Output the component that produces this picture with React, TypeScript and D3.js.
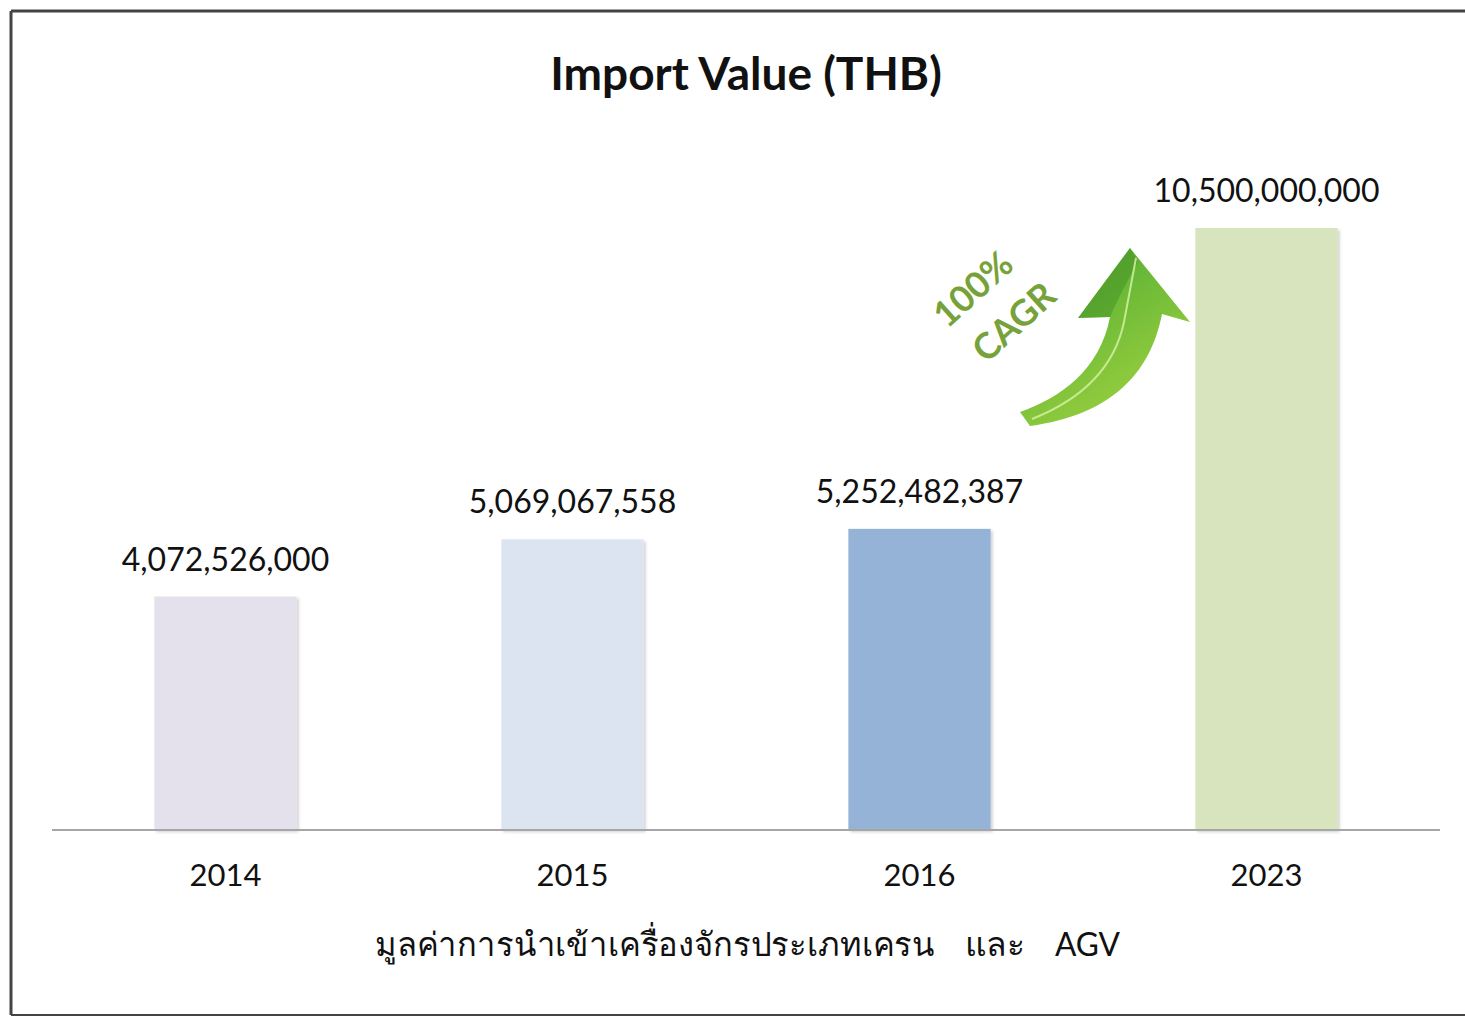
import React from "react";
import * as d3 from "d3";

const years = ["2014", "2015", "2016", "2023"];
const values = [4072526000, 5069067558, 5252482387, 10500000000];
const barColors = ["#e4e0ec", "#dce4f2", "#95b3d7", "#d7e4bd"];
const title = "Import Value (THB)";
const xTitleParts = ["มูลค่าการนำเข้าเครื่องจักรประเภทเครน", "และ", "AGV"];
const cagrLines = ["100%", "CAGR"];

const W = 1465;
const H = 1017;
const FONT = "Lato, 'Open Sans', 'Noto Sans', sans-serif";

export default function App() {
  const x = d3.scaleBand<string>().domain(years).range([52, 1440]).paddingInner(0.59).paddingOuter(0.295);
  const y = d3.scaleLinear().domain([0, 10500000000]).range([830, 228]);
  const fmt = d3.format(",");

  // arrow geometry (decorative)
  const arrowPath =
    "M1020,412 C1060,398 1100,370 1110,317 L1078,318 L1130,248 L1190,322 L1162,314 C1150,375 1110,415 1030,426 Z";
  const headShade = "M1110,317 L1078,318 L1130,248 L1138,262 C1128,280 1118,298 1110,317 Z";
  const highlight = "M1032,419 C1085,398 1115,365 1124,322 L1136,258";

  const partX = [375, 965, 1055];
  const partLen = [560, 60, 65];

  return (
    <div style={{ position: "absolute", left: 0, top: 0 }}>
      <svg width={W} height={H} style={{ display: "block", background: "#fff" }}>
        <defs>
          <linearGradient id="arrowGrad2" x1="0" y1="0" x2="0.6" y2="1">
            <stop offset="0%" stopColor="#4f9f2c" />
            <stop offset="45%" stopColor="#6cba38" />
            <stop offset="100%" stopColor="#9dd03e" />
          </linearGradient>
          <filter id="barShadow" x="-10%" y="-10%" width="130%" height="130%">
            <feDropShadow dx="2" dy="2" stdDeviation="1.5" floodColor="#000" floodOpacity="0.18" />
          </filter>
          <filter id="blur1">
            <feGaussianBlur stdDeviation="0.6" />
          </filter>
        </defs>
        {/* frame */}
        <line x1={11} y1={11} x2={W} y2={11} stroke="#444" strokeWidth={3} />
        <line x1={11} y1={11} x2={11} y2={1015} stroke="#444" strokeWidth={3} />
        <line x1={11} y1={1015} x2={W} y2={1015} stroke="#444" strokeWidth={2} />

        <text x={746} y={90} textAnchor="middle" fontFamily={FONT} fontWeight="bold" fontSize={46} fill="#111">
          {title}
        </text>

        {years.map((yr, i) => (
          <g key={yr}>
            <rect
              x={x(yr)}
              y={y(values[i])}
              width={x.bandwidth()}
              height={830 - y(values[i])}
              fill={barColors[i]}
              filter="url(#barShadow)"
            />
            <text
              x={(x(yr) as number) + x.bandwidth() / 2}
              y={y(values[i]) - 26}
              textAnchor="middle"
              fontFamily={FONT}
              fontSize={32}
              fill="#111"
            >
              {fmt(values[i])}
            </text>
            <text
              x={(x(yr) as number) + x.bandwidth() / 2}
              y={886}
              textAnchor="middle"
              fontFamily={FONT}
              fontSize={31}
              fill="#111"
            >
              {yr}
            </text>
          </g>
        ))}

        <line x1={52} y1={830} x2={1440} y2={830} stroke="#a6a6a6" strokeWidth={2} />

        {xTitleParts.map((p, i) => (
          <text
            key={i}
            x={partX[i]}
            y={956}
            fontFamily={FONT}
            fontSize={33}
            fill="#111"
            textLength={partLen[i]}
            lengthAdjust="spacingAndGlyphs"
          >
            {p}
          </text>
        ))}

        {/* CAGR arrow */}
        <path d={arrowPath} fill="url(#arrowGrad2)" filter="url(#blur1)" />
        <path d={headShade} fill="#3f8d24" opacity={0.45} filter="url(#blur1)" />
        <path d={highlight} fill="none" stroke="#d3f0a0" strokeWidth={2} opacity={0.85} filter="url(#blur1)" />

        <g transform="translate(972,288) rotate(-42)">
          <text textAnchor="middle" dominantBaseline="central" fontFamily={FONT} fontWeight="bold" fontSize={36} fill="#77a23a">
            {cagrLines[0]}
          </text>
        </g>
        <g transform="translate(1013,321) rotate(-42)">
          <text textAnchor="middle" dominantBaseline="central" fontFamily={FONT} fontWeight="bold" fontSize={36} fill="#77a23a">
            {cagrLines[1]}
          </text>
        </g>
      </svg>
    </div>
  );
}
